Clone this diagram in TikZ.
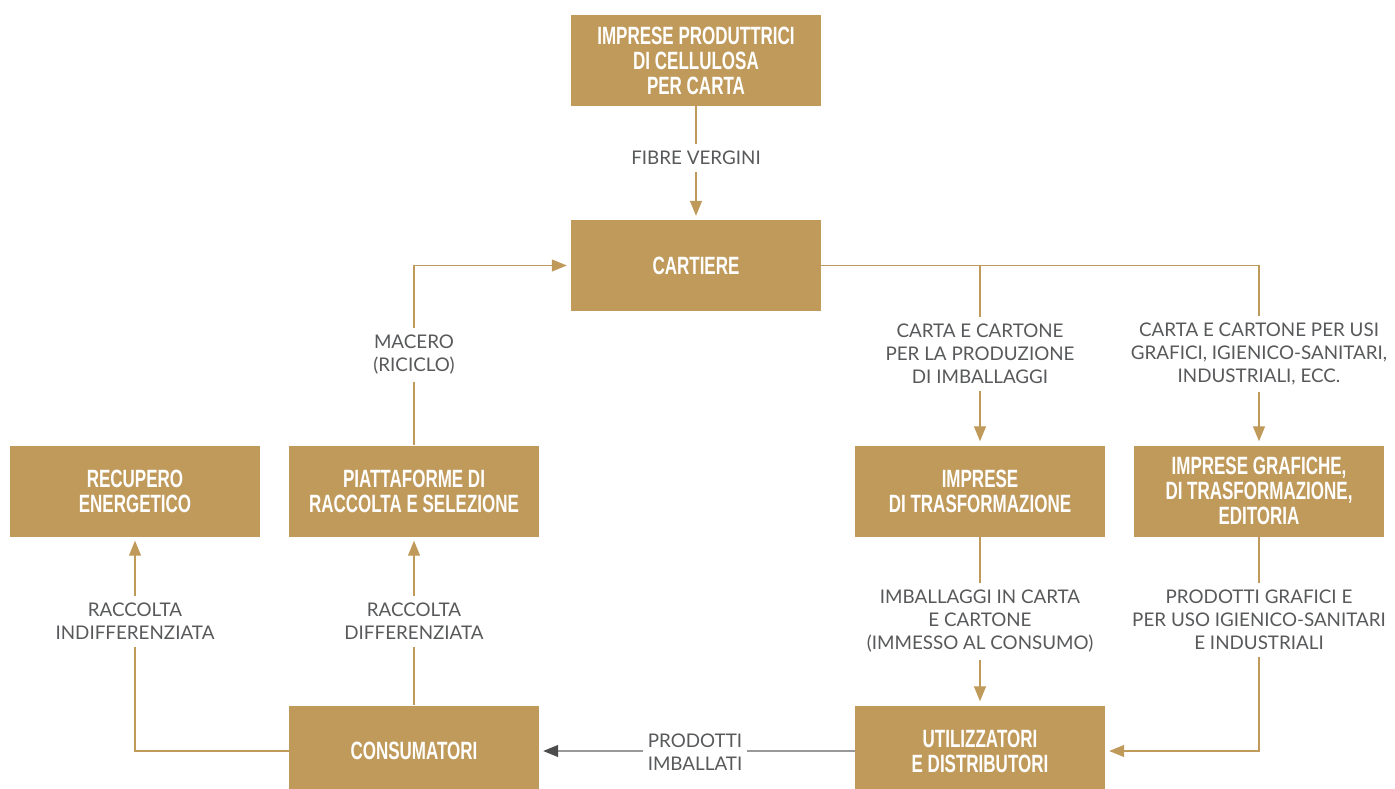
\documentclass[tikz,border=0pt]{standalone}
\usepackage{fontspec}
\newfontfamily\boxfont[FakeStretch=0.68]{Liberation Sans}
\newfontfamily\labfont{Lato}
\usetikzlibrary{arrows.meta}
\definecolor{paper}{RGB}{192,154,91}
\definecolor{ink}{RGB}{88,89,91}

\begin{document}
\begin{tikzpicture}[x=1pt, y=-1pt, >={Triangle[length=15pt,width=12pt]}]
\tikzstyle{box}=[fill=paper, text=white, minimum width=250pt, minimum height=91pt, inner sep=0pt, align=center, font=\boxfont\bfseries\fontsize{25}{25}\selectfont]
\tikzstyle{lab}=[fill=white, text=ink, align=center, inner xsep=5pt, inner ysep=7pt, font=\labfont\fontsize{18.8}{23}\selectfont]
\tikzstyle{flow}=[draw=paper, line width=1.2pt, ->, shorten >=4pt]
\useasboundingbox (0,0) rectangle (1395,789);

% boxes
\node[box] (cell)  at (696,60.5)  {IMPRESE PRODUTTRICI\\DI CELLULOSA\\PER CARTA};
\node[box] (cart)  at (696,265.5) {CARTIERE};
\node[box] (recup) at (135,491)   {RECUPERO\\ENERGETICO};
\node[box] (piatt) at (414,491)   {PIATTAFORME DI\\RACCOLTA E SELEZIONE};
\node[box] (trasf) at (980,491)   {IMPRESE\\DI TRASFORMAZIONE};
\node[box] (graf)  at (1259,491)  {IMPRESE GRAFICHE,\\DI TRASFORMAZIONE,\\EDITORIA};
\node[box] (cons)  at (414,751)   {CONSUMATORI};
\node[box] (util)  at (980,751)   {UTILIZZATORI\\E DISTRIBUTORI};

% flows
\draw[flow] (cell) -- (cart);
\draw[flow] (cart) -| (graf);
\draw[flow] (cart.east -| trasf) -- (trasf);
\draw[flow] (piatt) |- (cart);
\draw[flow] (cons) -- (piatt);
\draw[flow] (cons) -| (recup);
\draw[flow] (trasf) -- (util);
\draw[flow] (graf) |- (util);
\draw[flow, draw=black!40, -{Triangle[length=15pt,width=12pt,color=black!70]}] (util) -- (cons);

% labels
\node[lab] (fibre)     at (696,158)    {FIBRE VERGINI};
\node[lab] (imb)       at (980,354)    {CARTA E CARTONE\\PER LA PRODUZIONE\\DI IMBALLAGGI};
\node[lab] (usi)       at (1259,354)   {CARTA E CARTONE PER USI\\GRAFICI, IGIENICO-SANITARI,\\INDUSTRIALI, ECC.};
\node[lab] (macero)    at (414,355)    {MACERO\\(RICICLO)};
\node[lab] (indiff)    at (135,621.5)  {RACCOLTA\\INDIFFERENZIATA};
\node[lab] (diff)      at (414,621.5)  {RACCOLTA\\DIFFERENZIATA};
\node[lab] (consumo)   at (980,621.5)  {IMBALLAGGI IN CARTA\\E CARTONE\\(IMMESSO AL CONSUMO)};
\node[lab] (grafici)   at (1259,620)   {PRODOTTI GRAFICI E\\PER USO IGIENICO-SANITARI\\E INDUSTRIALI};
\node[lab] (imballati) at (695,752)    {PRODOTTI\\IMBALLATI};
\end{tikzpicture}
\end{document}
